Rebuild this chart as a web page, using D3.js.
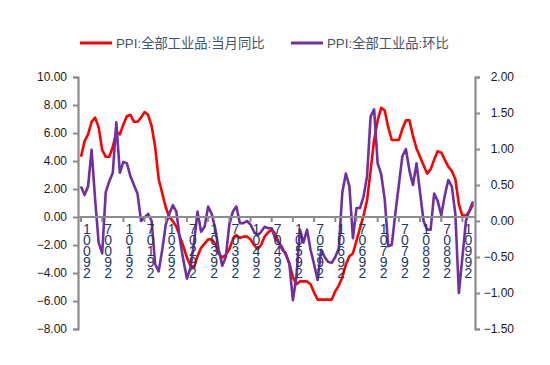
<!DOCTYPE html>
<html><head><meta charset="utf-8">
<script src="https://cdn.jsdelivr.net/npm/d3@7"></script>
<style>body{margin:0;background:#fff}svg{display:block}</style>
</head><body><svg id="c" width="550" height="365"></svg>
<script>
const categories = [];
for (let y = 2010; y <= 2019; y++) for (let m = 1; m <= 12; m++) { if (y === 2019 && m > 4) break; categories.push(y + "-" + String(m).padStart(2, "0")); }

const yoy = [
 4.3, 5.4, 5.9, 6.8, 7.1, 6.4, 4.8, 4.3, 4.3, 5.0, 6.1, 5.9,
 6.6, 7.2, 7.3, 6.8, 6.8, 7.1, 7.5, 7.3, 6.5, 5.0, 2.7, 1.7,
 0.7, 0.0, -0.3, -0.7, -1.4, -2.1, -2.9, -3.5, -3.6, -2.8, -2.2, -1.9,
 -1.6, -1.6, -1.9, -2.6, -2.9, -2.7, -2.3, -1.6, -1.3, -1.5, -1.4, -1.4,
 -1.6, -2.0, -2.3, -2.0, -1.4, -1.1, -0.9, -1.2, -1.8, -2.2, -2.7, -3.3,
 -4.3, -4.8, -4.6, -4.6, -4.6, -4.8, -5.4, -5.9, -5.9, -5.9, -5.9, -5.9,
 -5.3, -4.9, -4.3, -3.4, -2.8, -2.6, -1.7, -0.8, 0.1, 1.2, 3.3, 5.5,
 6.9, 7.8, 7.6, 6.4, 5.5, 5.5, 5.5, 6.3, 6.9, 6.9, 5.8, 4.9,
 4.3, 3.7, 3.1, 3.4, 4.1, 4.7, 4.6, 4.1, 3.6, 3.3, 2.7, 0.9,
 0.1, 0.1, 0.4, 0.9
];
const mom = [
 0.48, 0.36, 0.48, 0.99, 0.3, -0.3, -0.45, 0.4, 0.55, 0.67, 1.37, 0.67,
 0.82, 0.8, 0.62, 0.5, 0.38, 0.0, 0.05, 0.1, 0.0, -0.6, -0.7, -0.4,
 -0.05, 0.1, 0.22, 0.13, -0.25, -0.55, -0.8, -0.65, -0.3, 0.13, -0.15, -0.08,
 0.2, 0.1, -0.1, -0.4, -0.62, -0.5, -0.05, 0.13, 0.2, -0.03, -0.03, 0.0,
 -0.05, -0.15, -0.2, -0.15, -0.08, -0.1, -0.1, -0.25, -0.3, -0.4, -0.45, -0.6,
 -1.1, -0.77, -0.12, -0.3, -0.12, -0.4, -0.6, -0.82, -0.4, -0.5, -0.57, -0.58,
 -0.5, -0.38, 0.4, 0.66, 0.48, -0.24, 0.18, 0.18, 0.34, 0.62, 1.45, 1.55,
 0.8, 0.65, 0.3, -0.35, -0.33, 0.1, 0.5, 0.9, 1.0, 0.7, 0.5, 0.8,
 0.4, 0.0, -0.12, -0.12, 0.38, 0.28, 0.08, 0.35, 0.57, 0.48, 0.1, -1.0,
 -0.5, 0.0, 0.15, 0.27
];
const leftTicks = [10, 8, 6, 4, 2, 0, -2, -4, -6, -8];
const rightTicks = [2, 1.5, 1, 0.5, 0, -0.5, -1, -1.5];
const tickLabels = ["10092","70092","10192","70192","10292","70292","10392","70392","10492","70492",
                    "10592","70592","10692","70692","10792","70792","10892","70892","10992"];
const seriesNames = ["PPI:全部工业品:当月同比", "PPI:全部工业品:环比"];
const colors = ["#ff0000", "#7030a0"];

const svg = d3.select("#c");
const x = d3.scalePoint().domain(categories).range([81, 473]);
const yL = d3.scaleLinear().domain([-8, 10]).range([329, 77]);
const yR = d3.scaleLinear().domain([-1.5, 2]).range([329, 77]);
const axisColor = "#8c8c8c";
const font = "'Liberation Sans','Noto Sans CJK SC',sans-serif";

// left axis
const gL = svg.append("g").attr("transform", "translate(78,0)")
  .call(d3.axisLeft(yL).tickValues(leftTicks).tickFormat(d3.format(".2f")).tickSize(5).tickPadding(6));
// right axis
const gR = svg.append("g").attr("transform", "translate(475,0)")
  .call(d3.axisRight(yR).tickValues(rightTicks).tickFormat(d3.format(".2f")).tickSize(5).tickPadding(34));
[gL, gR].forEach(g => {
  g.select(".domain").attr("stroke", axisColor).attr("stroke-width", 2.2);
  g.selectAll(".tick line").attr("stroke", axisColor).attr("stroke-width", 2);
  g.selectAll(".tick text").attr("font-family", font).attr("font-size", 12).attr("fill", "#1a1a1a");
});
gR.selectAll(".tick text").attr("text-anchor", "end");

// lines
const lineL = d3.line().x((d, i) => x(categories[i])).y(d => yL(d));
const lineR = d3.line().x((d, i) => x(categories[i])).y(d => yR(d));
svg.append("path").datum(yoy).attr("d", lineL).attr("fill", "none")
  .attr("stroke", colors[0]).attr("stroke-width", 2.6).attr("stroke-linejoin", "round");
svg.append("path").datum(mom).attr("d", lineR).attr("fill", "none")
  .attr("stroke", colors[1]).attr("stroke-width", 2.6).attr("stroke-linejoin", "round");

// zero category axis
const zeroY = yL(0);
svg.append("line").attr("x1", 78).attr("x2", 475).attr("y1", zeroY).attr("y2", zeroY)
  .attr("stroke", axisColor).attr("stroke-width", 2.2);
const tickCats = categories.filter((d, i) => i % 6 === 0);
svg.selectAll(".xt").data(tickCats).enter().append("line")
  .attr("x1", d => x(d)).attr("x2", d => x(d)).attr("y1", zeroY).attr("y2", zeroY + 5)
  .attr("stroke", axisColor).attr("stroke-width", 2);
const xl = svg.selectAll(".xl").data(tickCats).enter().append("text")
  .attr("font-family", font).attr("font-size", 14).attr("fill", "#1f3864")
  .attr("text-anchor", "middle");
xl.each(function (d, j) {
  const t = d3.select(this);
  tickLabels[j].split("").forEach((ch, k) => {
    t.append("tspan").attr("x", x(d) + 6).attr("y", zeroY + 17 + k * 11).text(ch);
  });
});

// legend
const legendX = [80, 291];
seriesNames.forEach((name, i) => {
  svg.append("line").attr("x1", legendX[i]).attr("x2", legendX[i] + 32).attr("y1", 43).attr("y2", 43)
    .attr("stroke", colors[i]).attr("stroke-width", 3);
  svg.append("text").attr("x", legendX[i] + 36).attr("y", 48).attr("font-family", font)
    .attr("font-size", 13.3).attr("fill", "#44546a").text(name);
});
</script></body></html>
